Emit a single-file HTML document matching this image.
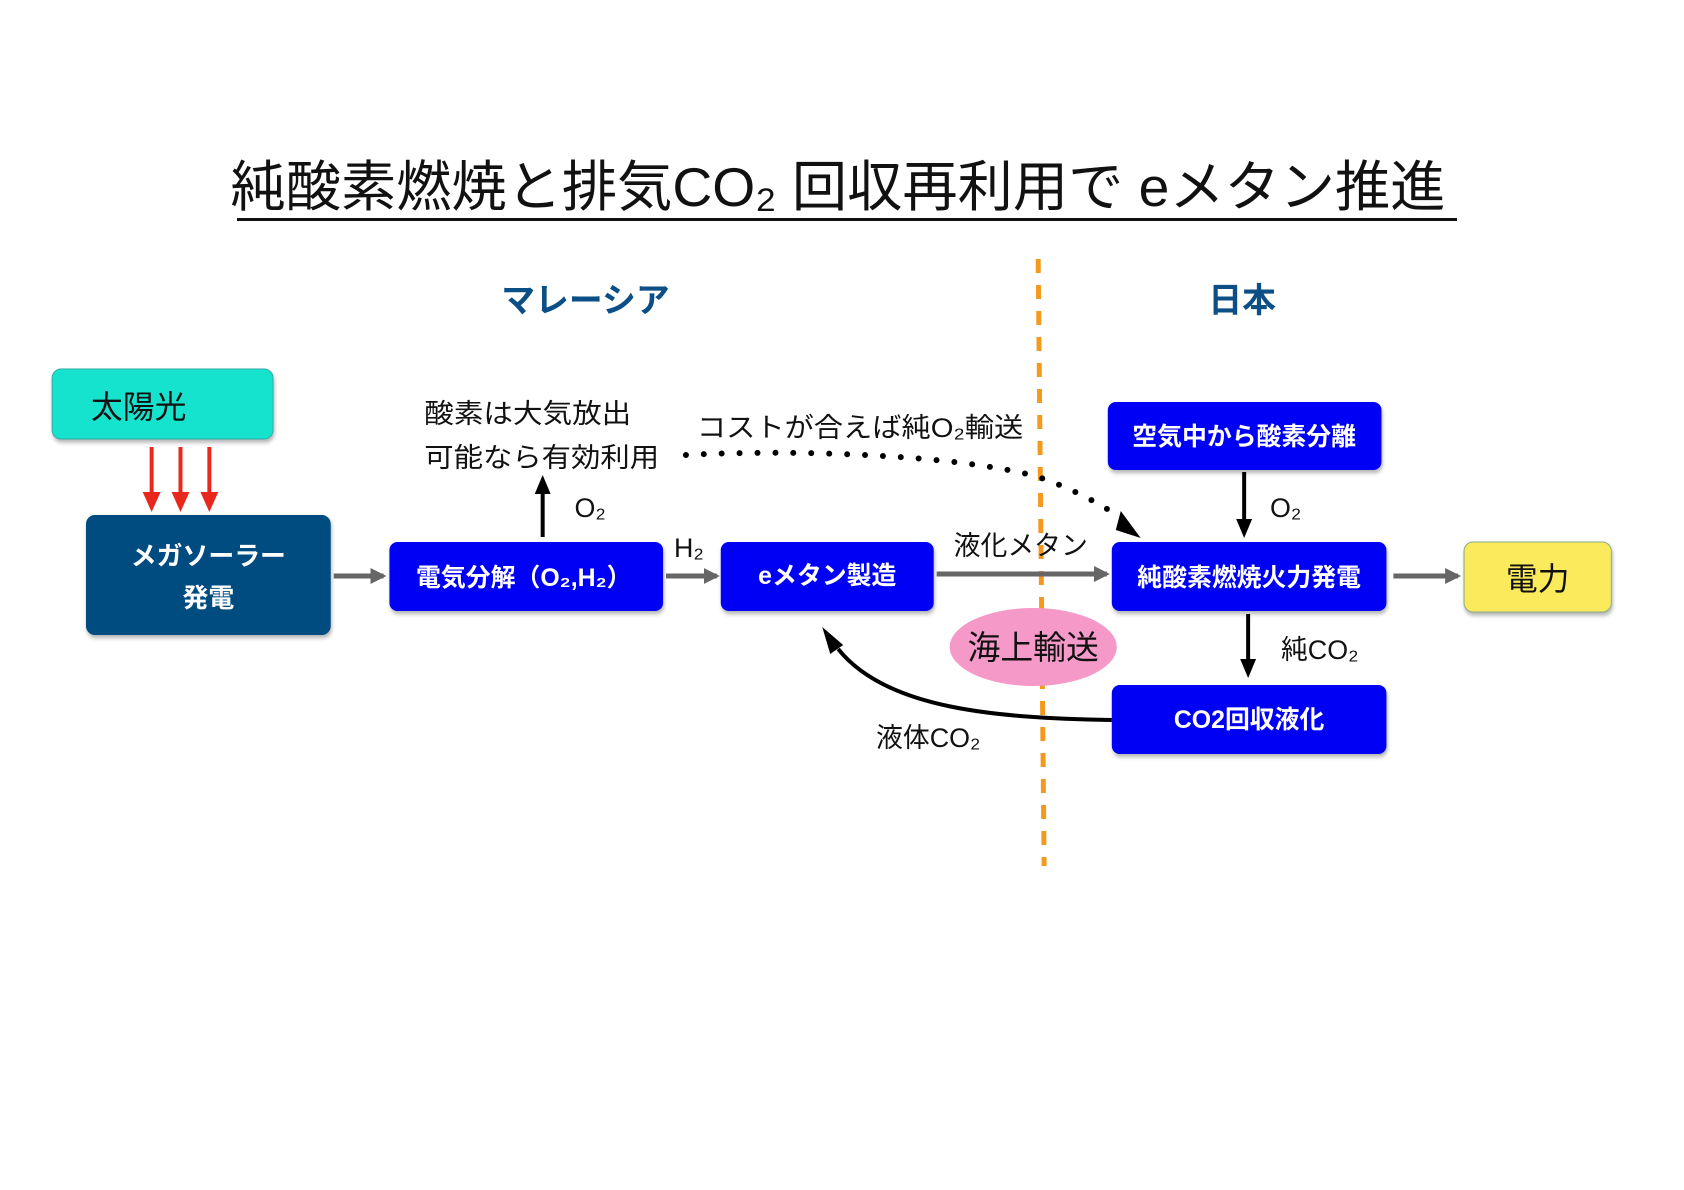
<!DOCTYPE html>
<html><head><meta charset="utf-8"><style>
html,body{margin:0;padding:0;background:#fff}
svg{display:block}
text{font-family:"Liberation Sans","Noto Sans CJK JP",sans-serif}
</style></head><body>
<svg width="1684" height="1190" viewBox="0 0 1684 1190" xmlns="http://www.w3.org/2000/svg">
<defs>
<marker id="ag" markerWidth="16" markerHeight="16" refX="13" refY="8" orient="auto" markerUnits="userSpaceOnUse"><path d="M0,0 L16,8 L0,16 z" fill="#666"/></marker>
<filter id="sh" x="-10%" y="-10%" width="130%" height="140%"><feDropShadow dx="1" dy="3" stdDeviation="2" flood-color="#000" flood-opacity="0.3"/></filter>
</defs>
<text x="838" y="206" font-size="55" text-anchor="middle" fill="#111" textLength="1215" lengthAdjust="spacingAndGlyphs">純酸素燃焼と排気CO₂ 回収再利用で eメタン推進</text>
<rect x="237" y="218" width="1220" height="3" fill="#111"/>
<g transform="matrix(0.995,0,0,1,0.4,-3)">
<g transform="translate(-4,-3)">
<text x="592" y="318" font-size="34" font-weight="bold" fill="#0B4F86" text-anchor="middle">マレーシア</text>
<text x="1252" y="318" font-size="34" font-weight="bold" fill="#0B4F86" text-anchor="middle">日本</text>
<line x1="1047" y1="265" x2="1053" y2="872" stroke="#F39A1E" stroke-width="5" stroke-dasharray="14,12"/>
<rect x="56" y="375" width="222" height="70" rx="9" fill="#19E3CD" stroke="#3aa" stroke-width="1" filter="url(#sh)"/>
<text x="95" y="424" font-size="32" fill="#111">太陽光</text>
<g stroke="#E8281C" stroke-width="4" fill="#E8281C">
<line x1="156" y1="453" x2="156" y2="500"/><path d="M147,498 L165,498 L156,518 z" stroke="none"/>
<line x1="185" y1="453" x2="185" y2="500"/><path d="M176,498 L194,498 L185,518 z" stroke="none"/>
<line x1="214" y1="453" x2="214" y2="500"/><path d="M205,498 L223,498 L214,518 z" stroke="none"/>
</g>
<rect x="90" y="521" width="246" height="120" rx="9" fill="#004B80" filter="url(#sh)"/>
<text x="213" y="571" font-size="26" font-weight="bold" fill="#fff" text-anchor="middle">メガソーラー</text>
<text x="213" y="613" font-size="26" font-weight="bold" fill="#fff" text-anchor="middle">発電</text>
<g stroke="#666" stroke-width="5">
<line x1="339" y1="582" x2="389" y2="582" marker-end="url(#ag)"/>
<line x1="673" y1="582" x2="724" y2="582" marker-end="url(#ag)"/>
<line x1="945" y1="580" x2="1116" y2="580" marker-end="url(#ag)"/>
<line x1="1404" y1="582" x2="1469" y2="582" marker-end="url(#ag)"/>
</g>
<g filter="url(#sh)" fill="#0505F5">
<rect x="395" y="548" width="275" height="69" rx="8"/>
<rect x="728" y="548" width="214" height="69" rx="8"/>
<rect x="1121" y="548" width="276" height="69" rx="8"/>
<rect x="1117" y="408" width="275" height="68" rx="8"/>
<rect x="1121" y="691" width="276" height="69" rx="8"/>
</g>
<g font-size="25" font-weight="bold" fill="#fff" text-anchor="middle">
<text x="530" y="592">電気分解（O₂,H₂）</text>
<text x="835" y="590">eメタン製造</text>
<text x="1259" y="592">純酸素燃焼火力発電</text>
<text x="1254" y="451">空気中から酸素分離</text>
<text x="1259" y="734">CO2回収液化</text>
</g>
<rect x="1475" y="548" width="148" height="70" rx="9" fill="#FBEB5B" stroke="#8a8" stroke-width="1" filter="url(#sh)"/>
<text x="1549" y="596" font-size="32" fill="#111" text-anchor="middle">電力</text>
<g stroke="#000" stroke-width="4" fill="#000">
<line x1="549" y1="543" x2="549" y2="498"/><path d="M541,500 L557,500 L549,481 z" stroke="none"/>
<line x1="1254" y1="478" x2="1254" y2="527"/><path d="M1246,525 L1262,525 L1254,544 z" stroke="none"/>
<line x1="1258" y1="620" x2="1258" y2="667"/><path d="M1250,665 L1266,665 L1258,684 z" stroke="none"/>
</g>
<path d="M1121,726 C1004,724 894,715 846,655" stroke="#000" stroke-width="4" fill="none"/>
<path d="M830,633 L851,651 L838,660 z" fill="#000"/>
<path d="M693,461 C804,455 964,461 1044,482 C1084,495 1114,513 1132,525" stroke="#000" stroke-width="6" stroke-linecap="round" stroke-dasharray="0,18" fill="none"/>
<path d="M1130,517 L1150,544 L1125,536 z" fill="#000"/>
<ellipse cx="1042" cy="653" rx="84" ry="39" fill="#F59AC8"/>
<text x="1042" y="665" font-size="33" fill="#111" text-anchor="middle">海上輸送</text>
<g font-size="27" fill="#111">
<text x="430" y="429" textLength="208" lengthAdjust="spacingAndGlyphs">酸素は大気放出</text>
<text x="430" y="473" textLength="236" lengthAdjust="spacingAndGlyphs">可能なら有効利用</text>
<text x="704" y="443" textLength="328" lengthAdjust="spacingAndGlyphs">コストが合えば純O₂輸送</text>
<text x="581" y="523">O₂</text>
<text x="681" y="563">H₂</text>
<text x="962" y="561">液化メタン</text>
<text x="1280" y="523">O₂</text>
<text x="1291" y="665">純CO₂</text>
<text x="884" y="753">液体CO₂</text>
</g>
</g>
</g>
</svg>
</body></html>
